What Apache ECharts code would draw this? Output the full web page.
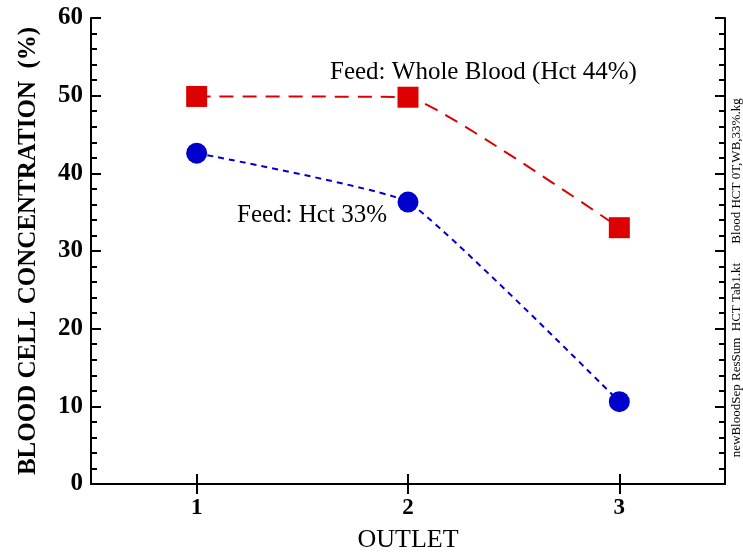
<!DOCTYPE html>
<html>
<head>
    <meta charset="UTF-8">
    <title>Blood cell concentration</title>
    <script src="https://cdn.jsdelivr.net/npm/echarts/dist/echarts.min.js"></script>
    <style>
        body { margin: 0; background: #fff; }
        #chart { width: 743px; height: 558px; }
    </style>
</head>
<body>
    <div id="chart"></div>
    <script>
        const outlets = ['1', '2', '3'];
        const wholeBlood = [49.9, 49.8, 33.0];
        const hct33 = [42.6, 36.3, 10.6];
        const yTicks = ['0', '10', '20', '30', '40', '50', '60'];

        const serif = '"Liberation Serif", "Times New Roman", serif';
        const chart = echarts.init(document.getElementById('chart'));

        const frame = {
            axisLine: { show: true, lineStyle: { color: '#000', width: 2 } },
            axisTick: { show: true, inside: true, length: 10, lineStyle: { color: '#000', width: 2 } },
            splitLine: { show: false }
        };

        chart.setOption({
            animation: false,
            grid: { left: 91, right: 18, top: 18, bottom: 71, containLabel: false },
            xAxis: [{
                type: 'category',
                data: outlets,
                boundaryGap: true,
                ...frame,
                axisTick: { ...frame.axisTick, alignWithLabel: true },
                axisLabel: { color: '#000', fontFamily: serif, fontWeight: 'bold', fontSize: 23, margin: 13 },
                name: 'OUTLET',
                nameLocation: 'middle',
                nameGap: 43,
                nameTextStyle: { color: '#000', fontFamily: serif, fontSize: 26 }
            }, {
                type: 'category',
                data: outlets,
                position: 'top',
                boundaryGap: true,
                ...frame,
                axisTick: { ...frame.axisTick, alignWithLabel: true },
                axisLabel: { show: false }
            }],
            yAxis: [{
                type: 'value',
                min: 0, max: 60, interval: 10,
                ...frame,
                minorTick: { show: true, splitNumber: 5, length: 6, lineStyle: { color: '#000', width: 2 } },
                axisLabel: {
                    color: '#000', fontFamily: serif, fontWeight: 'bold', fontSize: 25, margin: 8,
                    formatter: v => yTicks[v / 10]
                },
                name: 'BLOOD CELL CONCENTRATION  (%)',
                nameLocation: 'middle',
                nameGap: 50,
                nameTextStyle: { color: '#000', fontFamily: serif, fontWeight: 'bold', fontSize: 25 }
            }, {
                type: 'value',
                position: 'right',
                min: 0, max: 60, interval: 10,
                ...frame,
                minorTick: { show: true, splitNumber: 5, length: 6, lineStyle: { color: '#000', width: 2 } },
                axisLabel: { show: false }
            }],
            graphic: [
                { type: 'text', left: 330, top: 60, style: { text: 'Feed: Whole Blood (Hct 44%)', font: '25px ' + serif, fill: '#000' } },
                { type: 'text', left: 237, top: 203, style: { text: 'Feed: Hct 33%', font: '25px ' + serif, fill: '#000' } },
                { type: 'text', x: 743, y: 360, rotation: Math.PI / 2,
                  style: { text: 'newBloodSep ResSum  HCT Tab1.kt', font: '13px ' + serif, fill: '#000', align: 'center', verticalAlign: 'bottom' } },
                { type: 'text', x: 743, y: 171, rotation: Math.PI / 2,
                  style: { text: 'Blood HCT 0T,WB,33%.kg', font: '13px ' + serif, fill: '#000', align: 'center', verticalAlign: 'bottom' } }
            ],
            series: [{
                type: 'line',
                name: 'Whole Blood',
                data: wholeBlood,
                smooth: 0.1,
                symbol: 'rect',
                symbolSize: 21,
                itemStyle: { color: '#dd0000' },
                lineStyle: { color: '#dd0000', width: 2, type: [14, 9] },
                z: 3
            }, {
                type: 'line',
                name: 'Hct 33%',
                data: hct33,
                smooth: 0.12,
                symbol: 'circle',
                symbolSize: 21,
                itemStyle: { color: '#0000cc' },
                lineStyle: { color: '#0000cc', width: 2, type: [6, 5] },
                z: 3
            }]
        });
    </script>
</body>
</html>
